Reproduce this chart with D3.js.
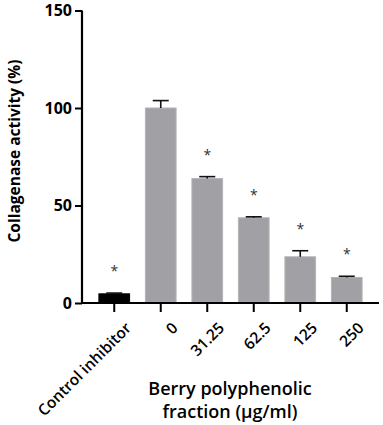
<!DOCTYPE html>
<html>
<head>
<meta charset="utf-8">
<script src="https://cdn.jsdelivr.net/npm/d3@7"></script>
<style>
  body { margin: 0; background: #fff; }
  text { font-family: "Open Sans", sans-serif; }
</style>
</head>
<body>
<svg id="chart"></svg>
<script>
(() => {

  const categories = ['Control inhibitor', '0', '31.25', '62.5', '125', '250'];
  const values = [4.7, 100, 63.8, 43.7, 23.7, 13.1];
  const errors = [0.4, 3.8, 1.0, 0.5, 3.1, 0.6];
  const stars = [true, false, true, true, true, true];
  const yTicks = [0, 50, 100, 150];

  const svgWidth = 383;
  const svgHeight = 425;

  const svg = d3.select('#chart')
  .attr('width', svgWidth)
  .attr('height', svgHeight);

  const yScale = d3.scaleLinear()
  .domain([0, 150])
  .range([303, 10.5]);

  const xScale = d3.scaleBand()
  .domain(categories)
  .range([91, 370])
  .paddingInner(0.34)
  .paddingOuter(0.17);

  // bars
  svg.selectAll('rect.bar')
  .data(categories)
  .enter()
  .append('rect')
  .attr('class', 'bar')
  .attr('x', (d) => xScale(d))
  .attr('y', (d, i) => yScale(values[i]))
  .attr('width', xScale.bandwidth())
  .attr('height', (d, i) => yScale(0) - yScale(values[i]))
  .attr('fill', (d, i) => i === 0 ? '#000' : '#a1a1a5')
  .attr('stroke', (d, i) => i === 0 ? '#000' : '#b4b4b8')
  .attr('stroke-width', 1);

  // error bars (upper only)
  const err = svg.selectAll('g.err')
  .data(categories)
  .enter()
  .append('g')
  .attr('class', 'err')
  .attr('stroke', '#111')
  .attr('stroke-width', 1.6);

  err.append('line')
  .attr('x1', (d) => xScale(d) + xScale.bandwidth() / 2)
  .attr('x2', (d) => xScale(d) + xScale.bandwidth() / 2)
  .attr('y1', (d, i) => yScale(values[i]))
  .attr('y2', (d, i) => yScale(values[i] + errors[i]));

  err.append('line')
  .attr('x1', (d) => xScale(d) + xScale.bandwidth() / 2 - 8)
  .attr('x2', (d) => xScale(d) + xScale.bandwidth() / 2 + 8)
  .attr('y1', (d, i) => yScale(values[i] + errors[i]))
  .attr('y2', (d, i) => yScale(values[i] + errors[i]));

  // significance stars
  svg.selectAll('text.star')
  .data(categories.filter((d, i) => stars[i]))
  .enter()
  .append('text')
  .attr('class', 'star')
  .attr('x', (d) => xScale(d) + xScale.bandwidth() / 2)
  .attr('y', (d) => {
    const i = categories.indexOf(d);
    return yScale(values[i] + errors[i]) - 17;
  })
  .attr('text-anchor', 'middle')
  .attr('font-size', 14)
  .attr('fill', '#333')
  .text('*');

  // y axis
  const yAxis = svg.append('g')
  .attr('transform', 'translate(82,0)')
  .call(d3.axisLeft(yScale).tickValues(yTicks).tickSize(7).tickPadding(3));
  yAxis.select('.domain').attr('stroke-width', 2.2).attr('d', `M0,${yScale(150)}V${yScale(0) + 1}`);
  yAxis.selectAll('.tick line').attr('stroke-width', 2);
  yAxis.selectAll('.tick text')
  .attr('font-family', '"Open Sans", sans-serif')
  .attr('font-size', 16)
  .attr('font-weight', 700)
  .attr('fill', '#000');

  // x axis
  const xAxis = svg.append('g')
  .attr('transform', `translate(0,${yScale(0)})`)
  .call(d3.axisBottom(xScale).tickSize(9).tickPadding(4));
  xAxis.select('.domain').attr('stroke-width', 2.2).attr('d', 'M81,0H379');
  xAxis.selectAll('.tick line').attr('stroke-width', 2);
  xAxis.selectAll('.tick text')
  .attr('font-family', '"Open Sans", sans-serif')
  .attr('font-size', 15.5)
  .attr('font-weight', 600)
  .attr('fill', '#000')
  .attr('text-anchor', 'end')
  .attr('dy', '0.35em')
  .attr('transform', 'translate(5,13) rotate(-45)');

  // axis titles
  svg.append('text')
  .attr('transform', 'translate(20,151) rotate(-90)')
  .attr('text-anchor', 'middle')
  .attr('font-size', 15.5)
  .attr('font-weight', 700)
  .text('Collagenase activity (%)');

  const xTitle = svg.append('text')
  .attr('text-anchor', 'middle')
  .attr('font-size', 18)
  .attr('font-weight', 600);
  xTitle.append('tspan').attr('x', 230).attr('y', 395).text('Berry polyphenolic');
  xTitle.append('tspan').attr('x', 230).attr('y', 418).text('fraction (μg/ml)');

})();
</script>
</body>
</html>
